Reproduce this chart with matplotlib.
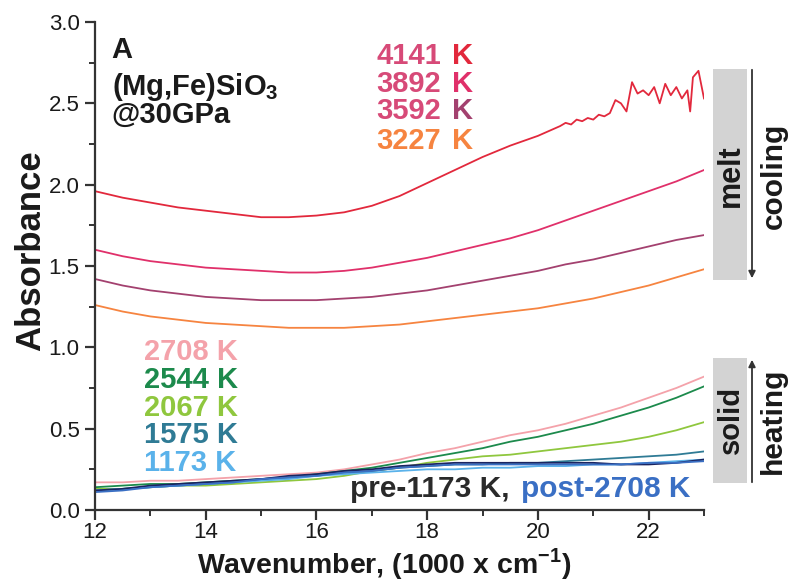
import matplotlib
matplotlib.use("Agg")
import matplotlib.pyplot as plt
from matplotlib.patches import Rectangle, FancyArrowPatch
from matplotlib.ticker import MultipleLocator

plt.rcParams['font.family'] = ['Liberation Sans', 'DejaVu Sans']
plt.rcParams['mathtext.fontset'] = 'custom'
plt.rcParams['mathtext.rm'] = 'Liberation Sans'
plt.rcParams['mathtext.bf'] = 'Liberation Sans:bold'

# ---------------- data ----------------
wn = [12.0, 12.5, 13.0, 13.5, 14.0, 14.5, 15.0, 15.5, 16.0, 16.5, 17.0, 17.5,
      18.0, 18.5, 19.0, 19.5, 20.0, 20.5, 21.0, 21.5, 22.0, 22.5, 23.0]

# melt (cooling)
wn_4141 = [12.0, 12.5, 13.0, 13.5, 14.0, 14.5, 15.0, 15.5, 16.0, 16.5, 17.0, 17.5,
           18.0, 18.5, 19.0, 19.5, 20.0, 20.2, 20.4, 20.5, 20.6, 20.7, 20.8, 20.9, 21.0,
           21.1, 21.2, 21.3, 21.4, 21.5, 21.6, 21.7, 21.8, 21.9, 22.0, 22.1, 22.2,
           22.3, 22.4, 22.5, 22.6, 22.7, 22.75, 22.8, 22.9, 23.0]
abs_4141 = [1.96, 1.92, 1.89, 1.86, 1.84, 1.82, 1.80, 1.80, 1.81, 1.83, 1.87, 1.93,
            2.01, 2.09, 2.17, 2.24, 2.30, 2.33, 2.36, 2.38, 2.37, 2.40, 2.39, 2.41, 2.40,
            2.43, 2.42, 2.44, 2.52, 2.50, 2.45, 2.63, 2.56, 2.58, 2.55, 2.60, 2.50,
            2.62, 2.55, 2.60, 2.53, 2.58, 2.45, 2.66, 2.70, 2.53]
abs_3892 = [1.60, 1.56, 1.53, 1.51, 1.49, 1.48, 1.47, 1.46, 1.46, 1.47, 1.49, 1.52,
            1.55, 1.59, 1.63, 1.67, 1.72, 1.78, 1.84, 1.90, 1.96, 2.02, 2.09]
abs_3592 = [1.42, 1.38, 1.35, 1.33, 1.31, 1.30, 1.29, 1.29, 1.29, 1.30, 1.31, 1.33,
            1.35, 1.38, 1.41, 1.44, 1.47, 1.51, 1.54, 1.58, 1.62, 1.66, 1.69]
abs_3227 = [1.26, 1.22, 1.19, 1.17, 1.15, 1.14, 1.13, 1.12, 1.12, 1.12, 1.13, 1.14,
            1.16, 1.18, 1.20, 1.22, 1.24, 1.27, 1.30, 1.34, 1.38, 1.43, 1.48]

# solid (heating)
abs_2708 = [0.17, 0.17, 0.18, 0.18, 0.19, 0.20, 0.21, 0.22, 0.23, 0.25, 0.28, 0.31,
            0.35, 0.38, 0.42, 0.46, 0.49, 0.53, 0.58, 0.63, 0.69, 0.75, 0.82]
abs_2544 = [0.14, 0.15, 0.16, 0.16, 0.17, 0.18, 0.19, 0.20, 0.22, 0.24, 0.26, 0.29,
            0.32, 0.35, 0.38, 0.42, 0.45, 0.49, 0.53, 0.58, 0.63, 0.69, 0.76]
abs_2067 = [0.13, 0.13, 0.14, 0.15, 0.15, 0.16, 0.17, 0.18, 0.19, 0.21, 0.24, 0.26,
            0.29, 0.31, 0.33, 0.34, 0.36, 0.38, 0.40, 0.42, 0.45, 0.49, 0.54]
abs_1575 = [0.12, 0.13, 0.14, 0.15, 0.16, 0.17, 0.19, 0.20, 0.21, 0.23, 0.24, 0.26,
            0.27, 0.28, 0.28, 0.29, 0.29, 0.30, 0.31, 0.32, 0.33, 0.34, 0.36]
abs_1173 = [0.12, 0.13, 0.14, 0.15, 0.16, 0.17, 0.18, 0.19, 0.21, 0.22, 0.23, 0.24,
            0.25, 0.25, 0.26, 0.26, 0.27, 0.27, 0.28, 0.28, 0.29, 0.30, 0.31]
abs_pre1173 = [0.12, 0.13, 0.15, 0.16, 0.17, 0.18, 0.19, 0.21, 0.22, 0.24, 0.25, 0.27,
               0.28, 0.29, 0.29, 0.29, 0.29, 0.29, 0.29, 0.28, 0.28, 0.29, 0.31]
abs_post2708 = [0.11, 0.12, 0.14, 0.15, 0.16, 0.17, 0.19, 0.20, 0.21, 0.23, 0.24, 0.26,
                0.27, 0.28, 0.28, 0.28, 0.28, 0.28, 0.28, 0.28, 0.29, 0.29, 0.30]

# ---------------- figure ----------------
W, H = 797, 581
fig = plt.figure(figsize=(W / 100, H / 100), dpi=100)
ax = fig.add_axes([95 / W, 1 - 510 / H, (704 - 95) / W, (510 - 22) / H])


def fx(px):
    return px / W


def fy(py):
    return 1 - py / H


c4141, c3892, c3592, c3227 = '#e2283c', '#e0306a', '#a3416f', '#f68440'
c2708, c2544, c2067, c1575, c1173 = '#f4a2aa', '#1c8a4c', '#8fc73e', '#2f7b95', '#5ab2ea'
cpre, cpost = '#1b2460', '#3a6fc4'
txt = '#1a1a1a'

lw = 1.3
ax.plot(wn_4141, abs_4141, color=c4141, lw=lw)
ax.plot(wn, abs_3892, color=c3892, lw=lw)
ax.plot(wn, abs_3592, color=c3592, lw=lw)
ax.plot(wn, abs_3227, color=c3227, lw=lw)

ax.plot(wn, abs_2708, color=c2708, lw=lw)
ax.plot(wn, abs_2544, color=c2544, lw=lw)
ax.plot(wn, abs_2067, color=c2067, lw=lw)
ax.plot(wn, abs_1575, color=c1575, lw=lw)
ax.plot(wn, abs_1173, color=c1173, lw=lw)
ax.plot(wn, abs_pre1173, color=cpre, lw=lw)
ax.plot(wn, abs_post2708, color=cpost, lw=lw)

ax.set_xlim(12, 23)
ax.set_ylim(0, 3.0)
ax.xaxis.set_major_locator(MultipleLocator(2))
ax.xaxis.set_minor_locator(MultipleLocator(1))
ax.yaxis.set_major_locator(MultipleLocator(0.5))
ax.yaxis.set_minor_locator(MultipleLocator(0.25))
ax.yaxis.set_major_formatter(plt.FuncFormatter(lambda v, p: f'{v:.1f}'))
for s in ['top', 'right']:
    ax.spines[s].set_visible(False)
for s in ['left', 'bottom']:
    ax.spines[s].set_linewidth(1.6)
    ax.spines[s].set_color('#333333')
ax.tick_params(which='major', length=7, width=1.6, color='#333333',
               labelsize=16, labelcolor=txt, pad=4)
ax.tick_params(axis='x', which='major', pad=2)
ax.tick_params(which='minor', length=4, width=1.4, color='#333333')

# axis labels
fig.text(fx(31), fy(251), 'Absorbance', rotation=90, fontsize=25, fontweight='bold',
         color=txt, ha='center', va='center')
fig.text(fx(384), fy(573), r'Wavenumber, (1000 x cm$^{\mathbf{-1}}$)', fontsize=20.5,
         fontweight='bold', color=txt, ha='center', va='baseline')

# sample label
ax.text(12.3, 2.83, 'A', fontsize=21, fontweight='bold', color=txt, va='center')
ax.text(12.3, 2.60, r'(Mg,Fe)SiO$_\mathbf{3}$', fontsize=21, fontweight='bold',
        color=txt, va='center')
ax.text(12.3, 2.43, '@30GPa', fontsize=21, fontweight='bold', color=txt, va='center')

# melt temperature labels (number + coloured K)
num_col = '#d74a78'
melt_labels = [('4141', 2.79, num_col, c4141),
               ('3892', 2.62, num_col, c3892),
               ('3592', 2.45, num_col, c3592),
               ('3227', 2.27, c3227, c3227)]
for t, y, cn, ck in melt_labels:
    ax.text(18.25, y, t, fontsize=21, fontweight='bold', color=cn, ha='right', va='center')
    ax.text(18.45, y, 'K', fontsize=21, fontweight='bold', color=ck, ha='left', va='center')

solid_labels = [('2708 K', 0.97, c2708), ('2544 K', 0.80, c2544),
                ('2067 K', 0.63, c2067), ('1575 K', 0.46, c1575),
                ('1173 K', 0.29, c1173)]
for t, y, c in solid_labels:
    ax.text(12.88, y, t, fontsize=21, fontweight='bold', color=c, ha='left', va='center')

ax.text(19.48, 0.08, 'pre-1173 K,', fontsize=21.5, fontweight='bold', color='#2a2a2a',
        ha='right', va='baseline')
ax.text(19.7, 0.08, 'post-2708 K', fontsize=21.5, fontweight='bold', color=cpost,
        ha='left', va='baseline')

# right side annotations (figure coords)
fig.patches.append(Rectangle((fx(713), fy(280)), fx(747) - fx(713), fy(69) - fy(280),
                             transform=fig.transFigure, facecolor='#d3d3d3',
                             edgecolor='none'))
fig.patches.append(Rectangle((fx(713), fy(483)), fx(747) - fx(713), fy(358) - fy(483),
                             transform=fig.transFigure, facecolor='#d3d3d3',
                             edgecolor='none'))
fig.text(fx(731), fy(176), 'melt', rotation=90, fontsize=22, fontweight='bold',
         color=txt, ha='center', va='center')
fig.text(fx(731), fy(420), 'solid', rotation=90, fontsize=21, fontweight='bold',
         color=txt, ha='center', va='center')
fig.patches.append(FancyArrowPatch((fx(752), fy(67)), (fx(752), fy(281)),
                                   transform=fig.transFigure, arrowstyle='-|>',
                                   mutation_scale=10, color='#333333', lw=1.3))
fig.patches.append(FancyArrowPatch((fx(752), fy(485)), (fx(752), fy(357)),
                                   transform=fig.transFigure, arrowstyle='-|>',
                                   mutation_scale=10, color='#333333', lw=1.3))
fig.text(fx(774), fy(176), 'cooling', rotation=90, fontsize=21.5, fontweight='bold',
         color=txt, ha='center', va='center')
fig.text(fx(773), fy(421), 'heating', rotation=90, fontsize=21.5, fontweight='bold',
         color=txt, ha='center', va='center')

fig.savefig('out.png', dpi=100)
